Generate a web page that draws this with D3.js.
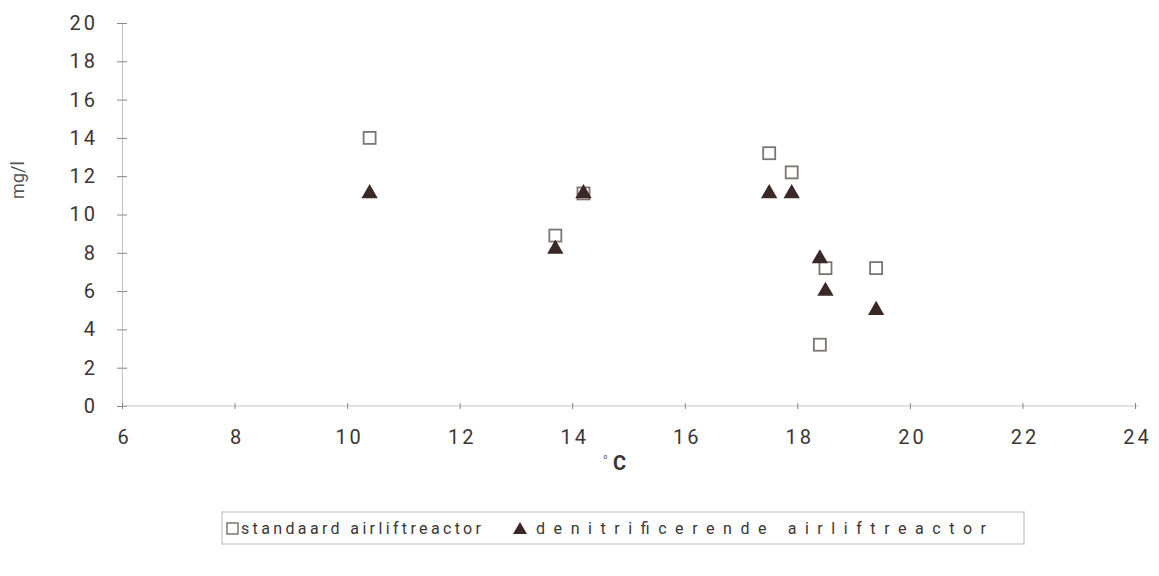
<!DOCTYPE html>
<html>
<head>
<meta charset="utf-8">
<script src="https://cdn.jsdelivr.net/npm/d3@7"></script>
<style>
  body { margin: 0; background: #fff; }
  .tick text { font-family: Roboto, "Liberation Sans", sans-serif; fill: #3b3535; }
</style>
</head>
<body>
<div class="chart"></div>
<script>
// data
var tempStandard = [10.4, 13.7, 14.2, 17.5, 17.9, 18.5, 18.4, 19.4];
var valStandard = [14.0, 8.9, 11.1, 13.2, 12.2, 7.2, 3.2, 7.2];
var tempDenit = [10.4, 13.7, 14.2, 17.5, 17.9, 18.4, 18.5, 19.4];
var valDenit = [11.1, 8.2, 11.1, 11.1, 11.1, 7.7, 6.0, 5.0];
var xTicks = [6, 8, 10, 12, 14, 16, 18, 20, 22, 24];
var yTicks = [0, 2, 4, 6, 8, 10, 12, 14, 16, 18, 20];
var seriesNames = ["standaard airliftreactor", "denitrificerende airliftreactor"];

var width = 1159, height = 576;
var margin = { top: 23, right: 24, bottom: 170, left: 122 },
  chart_width = width - margin.left - margin.right,
  chart_height = height - margin.top - margin.bottom;

var font = 'Roboto, "Liberation Sans", sans-serif';

var svg = d3.select(".chart").append("svg")
  .attr("width", width)
  .attr("height", height)
  .append("g")
  .attr("transform", "translate(" + margin.left + "," + margin.top + ")");

var xScale = d3.scaleLinear().domain([6, 24]).range([0, 1013]);
var yScale = d3.scaleLinear().domain([0, 20]).range([383, 0]);

// y axis
var yAxis = d3.axisLeft(yScale).tickValues(yTicks).tickSize(5).tickPadding(19)
  .tickFormat(function (d) { return d; });
var gy = svg.append("g").attr("class", "axis axis--y").call(yAxis);
gy.select(".domain").attr("stroke", "#c4c4c0").attr("stroke-width", 1);
gy.selectAll(".tick line").attr("x1", -5).attr("x2", 5).attr("stroke", "#8a8580");
gy.selectAll(".tick text")
  .attr("font-size", "20px")
  .attr("letter-spacing", "3px");

// x axis
var xAxis = d3.axisBottom(xScale).tickValues(xTicks).tickSize(4).tickPadding(20);
var gx = svg.append("g").attr("class", "axis axis--x")
  .attr("transform", "translate(0," + yScale(0) + ")")
  .call(xAxis);
gx.select(".domain").attr("d", "M0,0H" + (xScale(24) + 3)).attr("stroke", "#c4c4c0").attr("stroke-width", 1);
gx.selectAll(".tick line").attr("y1", -3).attr("y2", 3).attr("stroke", "#8a8580");
gx.selectAll(".tick text")
  .attr("font-size", "20px")
  .attr("letter-spacing", "3px")
  .attr("dx", "2px");

// axis titles
svg.append("text")
  .attr("transform", "rotate(-90)")
  .attr("x", -yScale(11.8))
  .attr("y", -98)
  .attr("text-anchor", "middle")
  .attr("font-family", font)
  .attr("font-size", "18px")
  .attr("fill", "#555")
  .text("mg/l");

var xt = svg.append("text")
  .attr("x", xScale(14.75))
  .attr("y", 447)
  .attr("text-anchor", "middle")
  .attr("font-family", font)
  .attr("fill", "#3b3535");
xt.append("tspan").attr("font-size", "14px").attr("dy", "-4").attr("fill", "#777").text("°");
xt.append("tspan").attr("font-size", "20px").attr("font-weight", "bold").attr("dx", "5").attr("dy", "4").text("C");

// markers
var triangle = d3.symbol().type(d3.symbolTriangle).size(115);

svg.append("g").attr("class", "standard")
  .selectAll("rect")
  .data(tempStandard.map(function (t, i) { return [t, valStandard[i]]; }))
  .enter().append("rect")
  .attr("x", function (d) { return xScale(d[0]) - 6; })
  .attr("y", function (d) { return yScale(d[1]) - 6; })
  .attr("width", 12)
  .attr("height", 12)
  .attr("fill", "#fff")
  .attr("stroke", "#7c7570")
  .attr("stroke-width", 1.8);

svg.append("g").attr("class", "denit")
  .selectAll("path")
  .data(tempDenit.map(function (t, i) { return [t, valDenit[i]]; }))
  .enter().append("path")
  .attr("transform", function (d) { return "translate(" + xScale(d[0]) + "," + yScale(d[1]) + ")"; })
  .attr("d", triangle)
  .attr("fill", "#3a2826");

// legend
var legend = svg.append("g").attr("transform", "translate(100,489)");
legend.append("rect")
  .attr("x", 0).attr("y", 0)
  .attr("width", 802).attr("height", 32)
  .attr("fill", "#fff")
  .attr("stroke", "#c8c4bd")
  .attr("stroke-width", 1.2);
legend.append("rect")
  .attr("x", 5).attr("y", 11).attr("width", 11).attr("height", 11)
  .attr("fill", "#fff").attr("stroke", "#7c7570").attr("stroke-width", 1.5);
legend.append("text")
  .attr("x", 19).attr("y", 22)
  .attr("font-family", font).attr("font-size", "16px")
  .attr("textLength", 240).attr("lengthAdjust", "spacing")
  .attr("fill", "#3b3535")
  .text(seriesNames[0]);
legend.append("path")
  .attr("transform", "translate(298,18)")
  .attr("d", d3.symbol().type(d3.symbolTriangle).size(85))
  .attr("fill", "#3a2826");
legend.append("text")
  .attr("x", 314).attr("y", 22)
  .attr("font-family", font).attr("font-size", "16px")
  .attr("textLength", 450).attr("lengthAdjust", "spacing")
  .attr("fill", "#3b3535")
  .text(seriesNames[1]);
</script>
</body>
</html>
